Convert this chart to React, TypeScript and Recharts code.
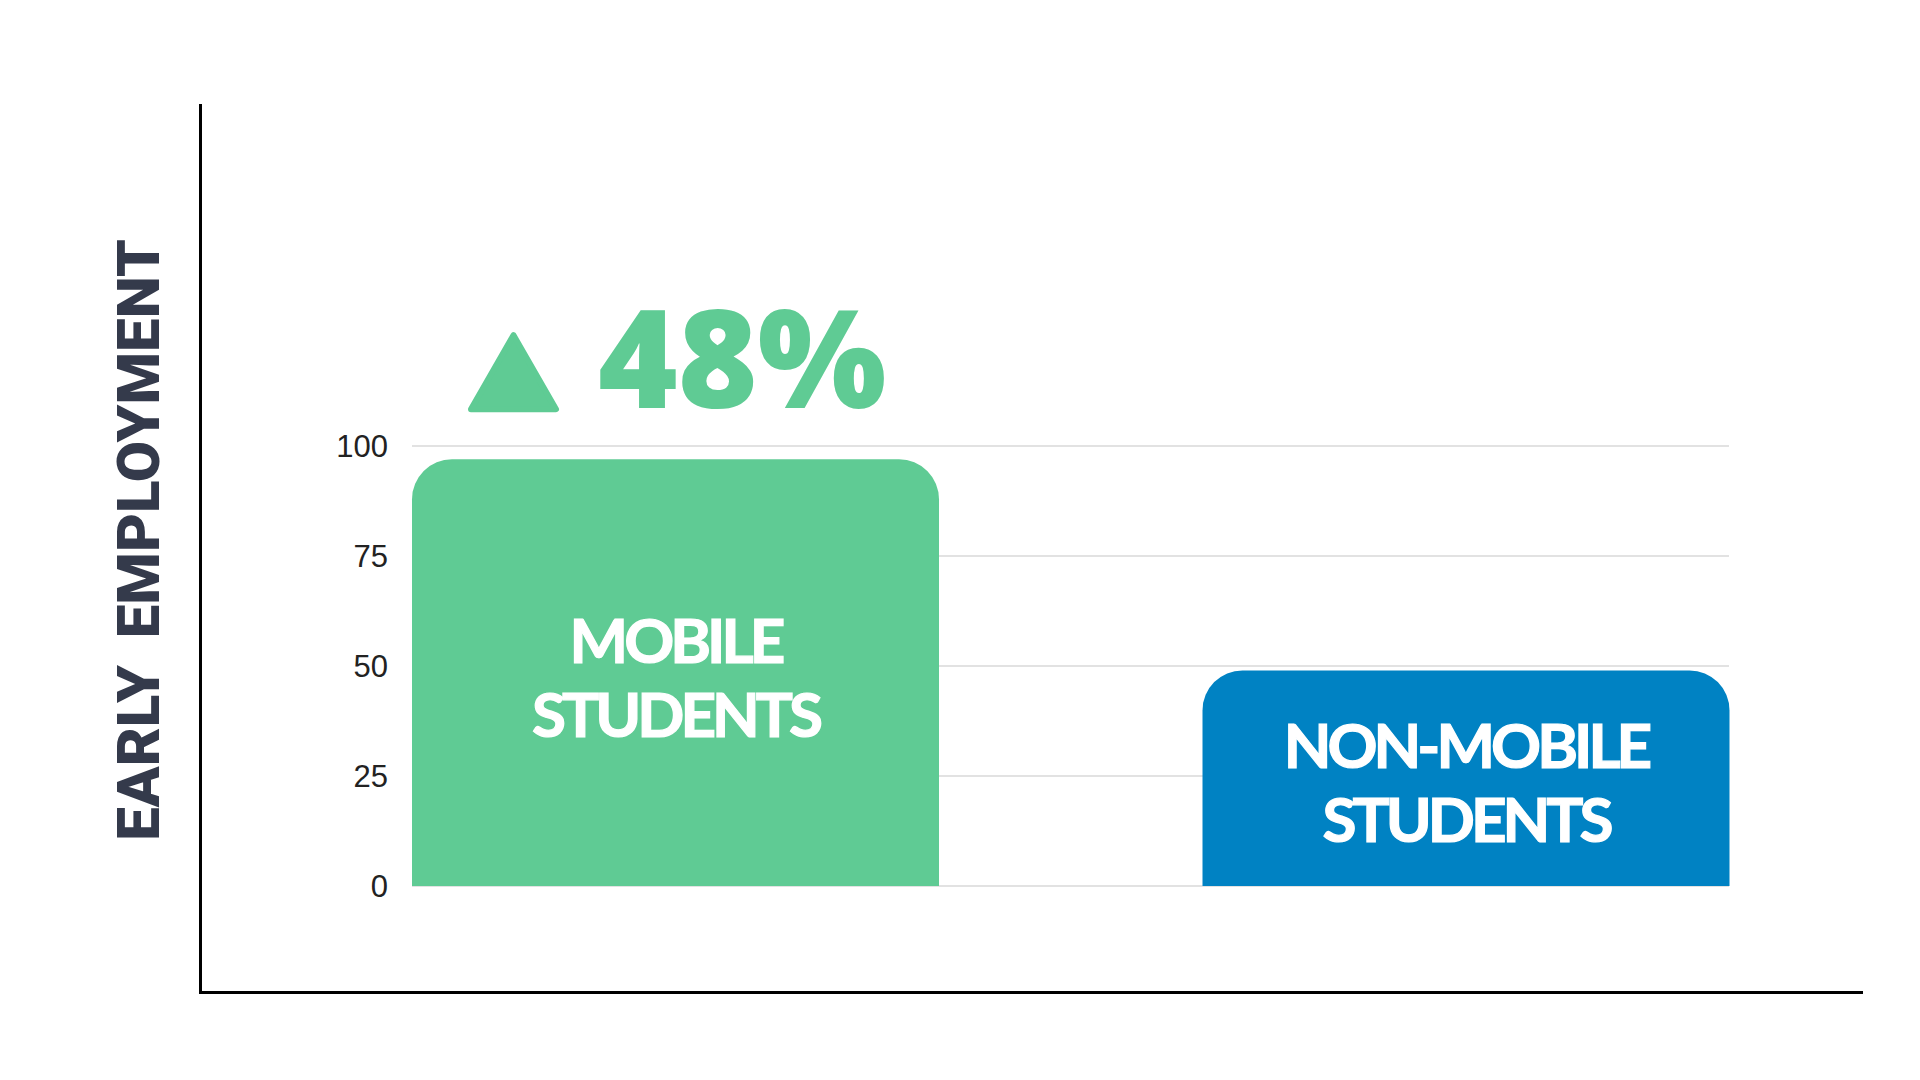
import React from 'react';
import { BarChart, Bar, XAxis, YAxis, CartesianGrid, Cell, LabelList, Label } from 'recharts';

// values
const categories = ['MOBILE STUDENTS', 'NON-MOBILE STUDENTS'];
const categoryLines = [
  ['MOBILE', 'STUDENTS'],
  ['NON-MOBILE', 'STUDENTS'],
];
const employment = [97, 49];
const yTicks = [0, 25, 50, 75, 100];
const increaseText = '48%';
const yTitleWords = ['EARLY', 'EMPLOYMENT'];

const barColors = ['#5fcb94', '#0082c3'];
const green = '#5fcb94';
const navy = '#343a4b';
const labelFont = 'Lato, "Open Sans", sans-serif';
const heavyFont = 'Roboto, "Open Sans", sans-serif';
const noteFont = '"Open Sans", Roboto, sans-serif';

const data = categories.map((name, i) => ({ name, value: employment[i] }));

function BarText(props: any) {
  const { x, y, width, height } = props.viewBox ?? props;
  const lines = categoryLines[props.index] || [];
  const cx = x + width / 2;
  const cy = y + height / 2;
  return (
    <text
      textAnchor="middle"
      fill="#ffffff"
      stroke="#ffffff"
      strokeWidth={1.2}
      fontFamily={labelFont}
      fontWeight={700}
      fontSize={62}
      letterSpacing={-4}
    >
      <tspan x={cx} y={cy - 10}>{lines[0]}</tspan>
      <tspan x={cx} y={cy + 64}>{lines[1]}</tspan>
    </text>
  );
}

function IncreaseNote(props: any) {
  if (props.index !== 0) return null;
  const { x, y } = props.viewBox ?? props;
  return (
    <g>
      <path
        d={`M${x + 59},${y - 50} L${x + 101.5},${y - 124} L${x + 144},${y - 50} Z`}
        fill={green}
        stroke={green}
        strokeWidth={6}
        strokeLinejoin="round"
      />
      <text x={x + 186} y={y - 51} fill={green} fontFamily={noteFont} fontWeight={800} fontSize={136}>
        {increaseText}
      </text>
    </g>
  );
}

export default function App() {
  return (
    <div style={{ position: 'absolute', left: 0, top: 0, width: 1920, height: 1080, background: '#fff' }}>
      {/* the black frame sits outside the plot area */}
      <div style={{ position: 'absolute', left: 199, top: 104, width: 3, height: 890, background: '#000' }} />
      <div style={{ position: 'absolute', left: 199, top: 991, width: 1664, height: 3, background: '#000' }} />
      <div style={{ position: 'absolute', left: 0, top: 0 }}>
        <BarChart
          width={1920}
          height={1080}
          data={data}
          margin={{ top: 446, right: 191, bottom: 194, left: 292 }}
          barCategoryGap={132}
        >
          <CartesianGrid vertical={false} stroke="#d9d9d9" strokeWidth={1.5} />
          <XAxis dataKey="name" hide padding={{ left: -132, right: -132 }} />
          <YAxis
            domain={[0, 100]}
            ticks={yTicks}
            interval={0}
            width={120}
            axisLine={false}
            tickLine={false}
            tickSize={0}
            tickMargin={24}
            tick={{ fill: '#222222', fontSize: 31, fontFamily: '"Liberation Sans", Arial, sans-serif' }}
          >
            <Label
              content={() => (
                <text
                  x={159}
                  y={540}
                  transform="rotate(-90 159 540)"
                  textAnchor="middle"
                  fill={navy}
                  fontFamily={heavyFont}
                  fontWeight={900}
                  fontSize={60}
                >
                  <tspan>{yTitleWords[0]}</tspan>
                  <tspan dx={12}> {yTitleWords[1]}</tspan>
                </text>
              )}
            />
          </YAxis>
          <Bar dataKey="value" radius={[40, 40, 0, 0]} isAnimationActive={false}>
            {data.map((d, i) => (
              <Cell key={d.name} fill={barColors[i]} />
            ))}
            <LabelList dataKey="name" content={<BarText />} />
            <LabelList dataKey="value" content={<IncreaseNote />} />
          </Bar>
        </BarChart>
      </div>
    </div>
  );
}
